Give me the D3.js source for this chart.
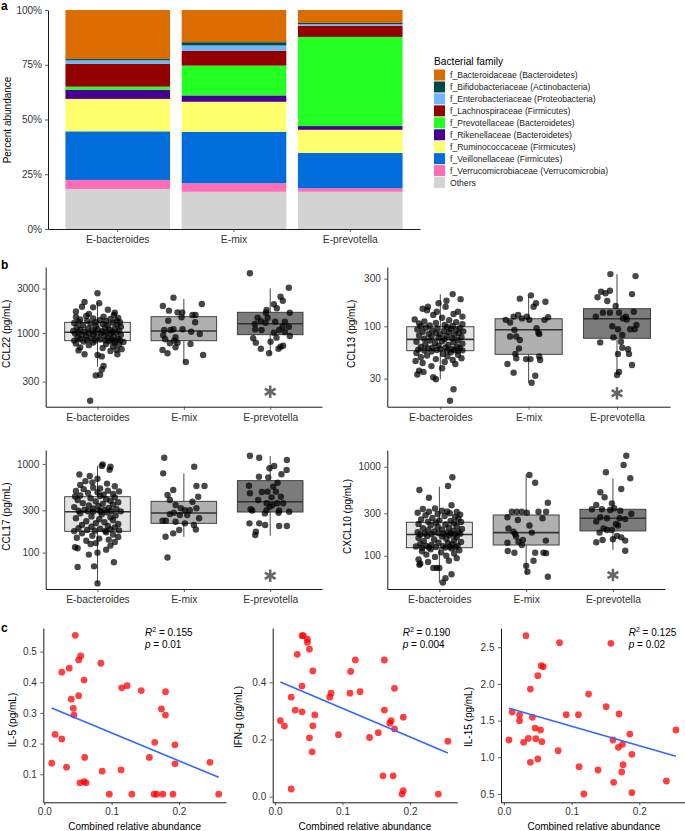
<!doctype html>
<html lang="en">
<head>
<meta charset="utf-8">
<title>Bacterial family abundance and cytokines</title>
<script src="https://cdn.jsdelivr.net/npm/d3@7"></script>
<style>
    body { margin: 0; background: #ffffff; }
    svg { display: block; font-family: "Liberation Sans", Arial, sans-serif; }
</style>
</head>
<body>
<svg></svg>
<script>
// ---------- panel a data ----------
var groups = ["E-bacteroides", "E-mix", "E-prevotella"];
var families = ["f_Bacteroidaceae (Bacteroidetes)", "f_Bifidobacteriaceae (Actinobacteria)",
    "f_Enterobacteriaceae (Proteobacteria)", "f_Lachnospiraceae (Firmicutes)",
    "f_Prevotellaceae (Bacteroidetes)", "f_Rikenellaceae (Bacteroidetes)",
    "f_Ruminococcaceae (Firmicutes)", "f_Veillonellaceae (Firmicutes)",
    "f_Verrucomicrobiaceae (Verrucomicrobia)", "Others"];
var familyColors = ["#db6d00", "#004949", "#6db6ff", "#920000", "#24ff24",
    "#490092", "#ffff6d", "#006ddb", "#ff6db6", "#d3d3d3"];
var abundBacteroides = [0.224, 0.006, 0.015, 0.105, 0.014, 0.042, 0.148, 0.222, 0.041, 0.183];
var abundMix = [0.147, 0.015, 0.024, 0.068, 0.136, 0.029, 0.137, 0.235, 0.039, 0.170];
var abundPrevotella = [0.059, 0.006, 0.007, 0.051, 0.407, 0.017, 0.106, 0.161, 0.016, 0.170];
var pctTicks = [0, 0.25, 0.5, 0.75, 1];

// ---------- panel b data: box stats [low whisker, q1, median, q3, high whisker] ----------
var ccl22Stats = [[434, 826, 1017, 1303, 2138], [484, 826, 1051, 1497, 2320], [590, 959, 1259, 1670, 3025]];
var ccl13Stats = [[29.5, 57, 74, 99, 209], [27.3, 52.5, 92.5, 119, 198], [32.6, 76, 119, 150, 333]];
var ccl17Stats = [[45, 174, 289, 427, 950], [151, 214, 280, 379, 783], [155, 287, 375, 648, 1228]];
var cxcl10Stats = [[50, 123, 173, 238, 597], [61, 132, 182, 287, 822], [116, 190, 264, 333, 742]];

// points: [jitter (fraction of category step), value]
var ccl22Bact = [[0,2673],[-0.15,2155],[0.02,2085],[-0.18,1918],[-0.05,1888],[0.12,1780],[-0.25,1700],[0.2,1650],[-0.1,1600],[0.19,1563],[-0.13,1523],[0.07,1497],[-0.25,1490],[0.24,1450],[-0.05,1430],[0.15,1420],[-0.2,1400],[0.03,1380],[0.22,1360],[-0.12,1350],[0.1,1340],[-0.22,1320],[0.26,1310],[-0.02,1308],
    [0.18,1290],[-0.27,1280],[-0.08,1260],[0.06,1250],[0.23,1230],[-0.17,1210],[0.12,1200],[-0.02,1180],[0.27,1170],[-0.24,1150],[0.09,1140],[-0.11,1120],[0.2,1110],[0,1100],[-0.2,1090],[0.14,1080],[-0.06,1070],[0.25,1060],[-0.28,1050],[0.05,1045],[-0.15,1035],[0.17,1030],[-0.03,1025],[0.1,1020],[-0.22,1018],
    [0.22,1010],[-0.1,1000],[0.04,995],[-0.26,985],[0.15,975],[-0.05,965],[0.27,955],[-0.18,945],[0.08,935],[-0.13,925],[0.19,915],[0,905],[-0.23,895],[0.12,885],[-0.07,875],[0.24,865],[-0.2,858],[0.03,850],[0.16,845],[-0.12,840],[0.26,835],[-0.03,832],[0.09,830],[-0.27,828],[0.2,827],
    [0.14,820],[-0.16,810],[0.3,800],[-0.05,790],[0.2,780],[-0.25,770],[0.1,760],[0.25,750],[-0.1,740],[0.18,720],[-0.2,700],[0.06,690],[0.28,670],[-0.22,650],[0.15,640],[0.22,660],[0.23,590],[-0.15,590],[0,580],[0.05,560],[0.07,442],[0.05,405],[-0.02,350],[0.03,355],[-0.085,187]];
var ccl22Mix = [[-0.12,2400],[-0.243,1950],[0.208,2050],[-0.173,1738],[-0.073,1668],[-0.019,1668],[0.1,1563],[0.135,1563],[-0.027,1475],[0.131,1303],[-0.181,1356],[-0.12,1096],[-0.227,1077],[-0.154,1077],[-0.015,1096],[0.085,1033],[0.185,975],[-0.239,944],[-0.096,899],[-0.216,856],[-0.112,827],[-0.162,775],[-0.073,787],[0.077,762],[-0.096,702],[-0.247,657],[-0.189,605],[0.223,580],[0.023,488]];
var ccl22Prev = [[-0.235,4385],[0.216,3070],[0.12,2455],[0.146,2225],[0.042,2035],[0.077,1843],[-0.042,1768],[-0.05,1653],[0.227,1653],[-0.146,1462],[-0.03,1462],[-0.108,1346],[0.058,1324],[-0.177,1250],[-0.054,1291],[0.17,1324],[0.143,1169],[0.216,1169],[-0.173,1095],[-0.1,1077],[0.104,1077],[0.042,1009],[0.17,1025],[0.227,929],[-0.197,877],[0.073,891],[-0.166,787],[0.004,806],[0.15,730],[0.12,712],[-0.108,678],[0.096,678],[-0.012,605]];

var ccl13Bact = [[0.14,210],[0.23,187],[0.07,180],[-0.02,170],[-0.14,157],[0.06,157],[-0.2,150],[-0.15,145],[-0.04,140],[0.2,140],[0.15,133],[-0.08,130],[0.25,125],[0.02,122],[-0.29,117],[0.1,115],[-0.18,112],[0.18,110],[-0.05,108],[-0.24,107],[0.25,105],[0.05,103],[-0.12,102],[0.14,101],[-0.22,100],
    [0.08,98],[-0.16,97],[0.22,96],[-0.03,95],[0.12,94],[-0.26,93],[0.18,92],[-0.09,91],[0.04,90],[0.26,89],[-0.2,88],[0.1,87],[-0.05,86],[0.21,85],[-0.13,84],[0,83],[0.16,82],[-0.24,81],[0.07,80],[-0.1,79],[0.24,78],[-0.02,77],[0.13,76],[-0.18,75],[0.05,74.5],
    [0.2,73],[-0.12,72],[0.02,71],[-0.27,70],[0.15,69],[-0.06,68],[0.25,67],[-0.17,66],[0.09,65],[-0.02,64],[0.19,63],[-0.22,62],[0.06,61.5],[-0.09,61],[0.22,60.5],[-0.14,60],[0,59.5],[0.13,59],[-0.25,58.5],[0.16,58],[-0.04,57.8],[0.25,57.5],[-0.18,57.3],[0.08,57.1],[0.2,57],
    [-0.1,56],[0.12,55],[-0.27,54],[0.03,53],[0.2,52],[-0.15,51],[0.08,50],[-0.22,49],[0.24,48],[-0.05,47],[0.14,46],[-0.28,45],[0.05,44],[-0.2,43],[0.17,42],[-0.1,40],[0.02,38],[-0.24,36],[-0.19,35],[-0.26,33],[-0.08,31],[-0.05,29.5],[0.15,23.5],[0.11,18]];
var ccl13Mix = [[0.026,204],[-0.1,189],[0.083,170],[0.19,176],[0.056,157],[-0.17,125],[-0.12,130],[-0.075,120],[-0.02,125],[0.008,116],[0.22,123],[0.18,116],[-0.26,116],[-0.21,109],[0.09,95.5],[0.11,86],[-0.16,92],[-0.21,79],[-0.14,79],[-0.1,73],[0.12,84],[-0.11,60],[-0.15,53],[-0.24,42],[-0.14,48],[-0.03,47],[0.02,47],[0.12,50],[0.13,46],[-0.17,34.4],[0.075,32],[0.034,27.3]];
var ccl13Prev = [[-0.075,333],[0.21,318],[-0.22,195],[-0.18,222],[-0.13,214],[-0.08,227],[-0.11,179],[-0.015,160],[0.17,210],[-0.24,125],[-0.16,137],[-0.08,137],[0.023,137],[0.1,125],[0.19,140],[0.11,117],[0.068,120],[0.2,93.3],[0.15,93.3],[0.011,93.3],[0.22,103],[-0.053,100],[0.06,82],[-0.04,77.5],[-0.19,69],[0.045,70],[0.06,61],[0.125,59],[0.136,53],[0.011,53],[0.17,41],[0.023,35],[0,32.6]];

var ccl17Bact = [[0.06,990],[0.05,950],[0.15,930],[0.14,860],[-0.21,760],[-0.09,730],[0,680],[-0.14,640],[-0.06,620],[0.11,600],[-0.2,580],[0.2,560],[-0.05,540],[0.03,530],[-0.16,520],[0.12,500],[-0.25,495],[0.25,490],[0,480],[-0.11,470],[0.18,460],[0.07,450],[-0.2,440],[0.03,435],[-0.26,430],
    [0.2,420],[-0.08,410],[0.1,400],[-0.23,392],[0.15,385],[-0.02,378],[0.24,370],[-0.17,362],[0.06,355],[0.18,348],[-0.1,340],[0.01,333],[-0.27,326],[0.13,320],[-0.05,315],[0.22,310],[-0.15,305],[0.08,302],[0.02,299],[-0.22,297],[0.16,295],[-0.11,293],[0.27,292],[0.04,291],[-0.05,290],
    [0.11,285],[-0.2,278],[0.05,270],[0.21,263],[-0.07,256],[0.15,250],[-0.25,244],[0.02,238],[0.18,232],[-0.13,226],[0.08,220],[-0.02,215],[0.24,210],[-0.18,205],[0.12,200],[-0.07,196],[0.2,192],[-0.22,189],[0.03,186],[0.15,183],[-0.12,180],[0.25,178],[-0.03,177],[0.09,176],[-0.27,175],
    [0.1,170],[-0.18,165],[0.18,160],[-0.06,155],[0.24,150],[-0.24,147],[0.02,144],[0.13,140],[-0.13,136],[0.2,132],[-0.02,128],[-0.08,125],[0.15,120],[-0.26,115],[-0.23,112],[0.1,108],[0,100],[-0.1,95],[0.19,78],[-0.04,70],[-0.23,69],[0,45]];
var ccl17Mix = [[-0.227,1175],[0.12,930],[-0.239,783],[0.146,564],[0.239,564],[-0.123,508],[-0.189,446],[-0.162,392],[0.166,427],[0.1,375],[-0.096,344],[-0.035,316],[0.012,301],[0.069,301],[0.146,316],[-0.162,272],[-0.116,282],[-0.046,265],[0.039,265],[0.177,244],[-0.247,229],[-0.208,229],[-0.096,223],[0.012,214],[0.116,205],[-0.054,180],[0.139,182],[-0.123,165],[-0.212,151],[-0.189,88]];
var ccl17Prev = [[-0.235,1238],[-0.127,1175],[0.193,1107],[0.046,949],[-0.008,893],[0.19,853],[-0.13,718],[0.13,764],[-0.023,706],[0.085,614],[-0.246,568],[0.035,554],[-0.097,482],[-0.031,487],[-0.235,467],[0.066,487],[0.016,420],[0.124,427],[-0.139,392],[-0.04,360],[0.081,360],[0.15,360],[0.027,344],[-0.004,330],[-0.227,308],[-0.208,298],[-0.042,301],[0.104,298],[-0.062,277],[0.22,289],[0.097,282],[-0.24,214],[-0.127,214],[-0.058,205],[0.104,200],[0.193,200],[-0.166,172],[-0.173,158]];

var cxcl10Bact = [[0.15,761],[0.1,608],[-0.23,548],[-0.12,449],[0.14,369],[-0.05,340],[-0.19,335],[0.03,320],[0.09,315],[-0.12,312],[0.2,310],[-0.25,305],[0.12,300],[-0.02,295],[0.24,290],[-0.16,285],[0.06,280],[0.18,272],[-0.08,266],[0.22,260],[-0.21,255],[0,250],[0.13,246],[-0.13,242],[0.25,240],
    [-0.04,236],[0.17,232],[-0.24,228],[0.07,224],[-0.1,220],[0.2,216],[-0.02,212],[0.11,208],[-0.19,204],[0.26,200],[0.03,197],[-0.13,194],[0.16,191],[-0.06,188],[0.22,186],[-0.25,184],[0.09,182],[-0.01,180],[0.13,179],[-0.17,178],[0.24,177],[0.05,176],[-0.09,175],[0.18,174],[-0.22,173.5],
    [0.12,170],[-0.14,167],[0.03,164],[0.2,161],[-0.24,158],[0.08,155],[-0.06,152],[0.17,149],[-0.18,146],[0.25,143],[-0.01,140],[0.1,138],[-0.22,136],[0.15,134],[-0.09,132],[0.21,130],[-0.15,129],[0.04,128],[-0.27,127],[0.12,126],[-0.04,125],[0.19,124.5],[-0.12,124],[0.07,123.5],[-0.2,123],
    [0.14,121],[-0.1,118],[0.23,115],[-0.2,112],[0.02,109],[0.17,106],[-0.15,103],[0.08,100],[-0.05,97],[0.2,94],[-0.24,91],[0.11,88],[-0.13,85],[-0.22,82],[-0.23,79],[-0.07,73],[-0.03,73],[0,73],[0.14,62],[0.07,56],[0.04,50]];
var cxcl10Mix = [[0.038,808],[0.104,662],[0.25,394],[-0.215,271],[-0.165,312],[-0.108,312],[-0.05,312],[0.008,305],[0.142,312],[0.23,313],[0.188,264],[-0.096,252],[0.038,219],[-0.204,203],[-0.146,186],[-0.127,175],[-0.115,164],[0.065,182],[-0.038,150],[0.227,148],[-0.215,140],[-0.088,144],[-0.05,132],[-0.212,113],[-0.135,108],[0.104,108],[0.2,108],[0.23,107],[0.085,88],[0,77],[0.015,66],[0.25,58]];
var cxcl10Prev = [[0.154,1331],[0.123,1047],[-0.081,867],[0.2,742],[0.096,562],[-0.146,516],[-0.096,454],[-0.012,388],[-0.192,372],[0.015,342],[-0.242,333],[-0.127,333],[-0.031,326],[0.085,321],[0.212,296],[-0.146,271],[-0.069,264],[0.077,264],[0.142,258],[-0.192,242],[0.035,227],[-0.108,203],[-0.069,195],[-0.012,195],[0.058,219],[-0.154,182],[0.046,167],[0.096,161],[0,153],[-0.119,150],[-0.192,142],[0.142,148],[0.142,114]];

// ---------- panel c data: [combined relative abundance, pg/mL] ----------
var il5Points = [[0.011,0.136],[0.016,0.230],[0.026,0.433],[0.026,0.215],[0.033,0.123],[0.037,0.446],[0.040,0.345],[0.043,0.315],[0.044,0.293],[0.051,0.473],[0.051,0.356],[0.054,0.486],[0.053,0.072],[0.059,0.407],[0.060,0.155],[0.059,0.076],[0.062,0.072],[0.084,0.462],[0.086,0.110],[0.0965,0.035],[0.114,0.114],[0.115,0.382],[0.123,0.389],[0.130,0.035],[0.144,0.373],[0.156,0.155],[0.164,0.204],[0.163,0.035],[0.167,0.035],[0.174,0.313],[0.176,0.035],[0.180,0.369],[0.180,0.293],[0.191,0.035],[0.194,0.196],[0.194,0.134],[0.246,0.139],[0.259,0.035],[0.046,0.553]];
var ifngPoints = [[0.008,0.266],[0.014,0.247],[0.024,0.027],[0.024,0.348],[0.030,0.303],[0.033,0.498],[0.040,0.297],[0.040,0.387],[0.048,0.540],[0.051,0.516],[0.051,0.206],[0.055,0.157],[0.056,0.248],[0.056,0.440],[0.059,0.286],[0.081,0.348],[0.083,0.362],[0.094,0.217],[0.111,0.362],[0.112,0.438],[0.119,0.478],[0.126,0.367],[0.140,0.207],[0.153,0.224],[0.160,0.073],[0.162,0.478],[0.162,0.303],[0.170,0.257],[0.172,0.266],[0.175,0.073],[0.177,0.237],[0.177,0.379],[0.188,0.009],[0.190,0.021],[0.190,0.278],[0.242,0.009],[0.256,0.194],[0.040,0.563],[0.042,0.563],[0.048,0.551]];
var il15Points = [[0.0074,1.236],[0.012,1.617],[0.023,1.499],[0.023,1.576],[0.029,1.204],[0.036,1.259],[0.039,1.930],[0.039,0.932],[0.042,1.545],[0.046,1.399],[0.047,1.253],[0.050,2.112],[0.050,0.977],[0.054,1.372],[0.055,2.248],[0.058,2.234],[0.056,1.213],[0.080,1.090],[0.082,2.561],[0.092,1.580],[0.110,1.580],[0.111,0.872],[0.118,0.5],[0.125,1.862],[0.139,0.827],[0.151,1.689],[0.158,2.553],[0.161,1.236],[0.162,0.659],[0.169,1.136],[0.170,1.590],[0.174,0.800],[0.175,1.177],[0.176,0.899],[0.186,1.317],[0.189,1.041],[0.189,0.518],[0.240,0.677],[0.254,1.372],[0.0325,2.657]];
// linear fits [intercept, slope] and stats text
var il5Fit = [0.3258, -0.911];
var ifngFit = [0.409, -1.0];
var il15Fit = [1.689, -2.66];
var r2Values = ["0.155", "0.190", "0.125"];
var pValues = ["0.01", "0.004", "0.02"];

// ---------- drawing ----------
var FONT = '"Liberation Sans", Arial, sans-serif';
var svg = d3.select("svg").attr("width", 685).attr("height", 831);
svg.append("rect").attr("width", 685).attr("height", 831).attr("fill", "#fff");

function styleAxis(g, size) {
    g.attr("font-family", FONT).attr("font-size", size || 10);
    g.select(".domain").attr("stroke", "#000").attr("stroke-width", 0.9);
    g.selectAll(".tick line").attr("stroke", "#333").attr("stroke-width", 0.8);
    g.selectAll(".tick text").attr("fill", "#333");
}
function yTitle(text, x, y) {
    svg.append("text").attr("transform", "translate(" + x + "," + y + ") rotate(-90)")
        .attr("text-anchor", "middle").attr("font-size", 10).attr("fill", "#000").text(text);
}
function panelLetter(t, x, y) {
    svg.append("text").attr("x", x).attr("y", y).attr("font-weight", "bold")
        .attr("font-size", 12).text(t);
}
// significance star drawn as three crossing strokes
function star(cx, cy) {
    var r = 6.2;
    [90, 30, 150].forEach(function (a) {
        var t = a * Math.PI / 180;
        svg.append("line")
            .attr("x1", cx - r * Math.cos(t)).attr("y1", cy - r * Math.sin(t))
            .attr("x2", cx + r * Math.cos(t)).attr("y2", cy + r * Math.sin(t))
            .attr("stroke", "#666").attr("stroke-width", 2.6);
    });
}

// ----- panel a -----
panelLetter("a", 1, 10);
var ax = d3.scaleBand().domain(groups).range([48, 420]).paddingInner(0.1).paddingOuter(0.15);
var ay = d3.scaleLinear().domain([0, 1]).range([229, 10]);
var abund = [abundBacteroides, abundMix, abundPrevotella];
var rows = groups.map(function (g, i) {
    var r = { group: g };
    families.forEach(function (f, j) { r[f] = abund[i][j]; });
    return r;
});
var stacked = d3.stack().keys(families.slice().reverse())(rows);
svg.append("g").selectAll("g").data(stacked).enter().append("g")
    .attr("fill", function (s) { return familyColors[families.indexOf(s.key)]; })
    .selectAll("rect").data(function (s) { return s; }).enter().append("rect")
    .attr("x", function (d) { return ax(d.data.group); })
    .attr("width", ax.bandwidth())
    .attr("y", function (d) { return ay(d[1]); })
    .attr("height", function (d) { return ay(d[0]) - ay(d[1]); });

var ga = svg.append("g").attr("transform", "translate(48,0)")
    .call(d3.axisLeft(ay).tickValues(pctTicks).tickFormat(d3.format(".0%")).tickSize(3).tickPadding(3).tickSizeOuter(0));
styleAxis(ga);
var gb = svg.append("g").attr("transform", "translate(0,229)")
    .call(d3.axisBottom(ax).tickSize(3).tickPadding(4).tickSizeOuter(0));
styleAxis(gb, 10.3);
yTitle("Percent abundance", 11, 120);

// legend
var lg = svg.append("g").attr("transform", "translate(434,0)");
lg.append("text").attr("x", 0).attr("y", 65).attr("font-size", 10.2).text("Bacterial family");
families.forEach(function (f, i) {
    var cy = 75 + i * 11.95;
    lg.append("rect").attr("x", 0).attr("y", cy - 5.5).attr("width", 11).attr("height", 11)
        .attr("fill", familyColors[i]);
    lg.append("text").attr("x", 16).attr("y", cy + 3).attr("font-size", 8.6).attr("fill", "#1a1a1a").text(f);
});

// ----- panel b -----
panelLetter("b", 1, 269);
var boxFills = ["#e3e3e3", "#b0b0b0", "#7b7b7b"];
function boxPanel(o) {
    var x = d3.scalePoint().domain(groups).range([o.left, o.right]).padding(0.6);
    var y = d3.scaleLog().domain(o.domain).range([o.bottom, o.top]);
    var step = x.step();
    var bw = step * 0.76;
    var g = svg.append("g");
    o.stats.forEach(function (s, i) {
        var cx = x(groups[i]);
        g.append("line").attr("x1", cx).attr("x2", cx).attr("y1", y(s[0])).attr("y2", y(s[1]))
            .attr("stroke", "#333").attr("stroke-width", 0.9);
        g.append("line").attr("x1", cx).attr("x2", cx).attr("y1", y(s[3])).attr("y2", y(s[4]))
            .attr("stroke", "#333").attr("stroke-width", 0.9);
        g.append("rect").attr("x", cx - bw / 2).attr("width", bw)
            .attr("y", y(s[3])).attr("height", y(s[1]) - y(s[3]))
            .attr("fill", boxFills[i]).attr("stroke", "#333").attr("stroke-width", 0.9);
        g.append("line").attr("x1", cx - bw / 2).attr("x2", cx + bw / 2).attr("y1", y(s[2])).attr("y2", y(s[2]))
            .attr("stroke", "#333").attr("stroke-width", 1.6);
    });
    o.points.forEach(function (pts, i) {
        g.selectAll(null).data(pts).enter().append("circle")
            .attr("cx", function (d) { return x(groups[i]) + d[0] * step; })
            .attr("cy", function (d) { return y(d[1]); })
            .attr("r", 3.2).attr("fill", "#000").attr("fill-opacity", 0.72);
    });
    var gy = svg.append("g").attr("transform", "translate(" + o.left + ",0)")
        .call(d3.axisLeft(y).tickValues(o.ticks).tickFormat(d3.format("d")).tickSize(3).tickPadding(3.5).tickSizeOuter(0));
    styleAxis(gy);
    var gx = svg.append("g").attr("transform", "translate(0," + o.bottom + ")")
        .call(d3.axisBottom(x).tickSize(3).tickPadding(3.5).tickSizeOuter(0));
    styleAxis(gx, 10.3);
    yTitle(o.title, o.titleX, (o.top + o.bottom) / 2 - 3);
    star(x(groups[2]), o.starY);
}
boxPanel({ left: 45.7, right: 322, top: 267, bottom: 406.7, domain: [161.2, 5125], ticks: [300, 1000, 3000],
    stats: ccl22Stats, points: [ccl22Bact, ccl22Mix, ccl22Prev], title: "CCL22 (pg/mL)", titleX: 10, starY: 391.7 });
boxPanel({ left: 387.3, right: 670, top: 267, bottom: 406.7, domain: [15.7, 392], ticks: [30, 100, 300],
    stats: ccl13Stats, points: [ccl13Bact, ccl13Mix, ccl13Prev], title: "CCL13 (pg/mL)", titleX: 355, starY: 393.3 });
boxPanel({ left: 45.7, right: 322, top: 450, bottom: 589, domain: [38.9, 1436], ticks: [100, 300, 1000],
    stats: ccl17Stats, points: [ccl17Bact, ccl17Mix, ccl17Prev], title: "CCL17 (pg/mL)", titleX: 10, starY: 575.7 });
boxPanel({ left: 387.3, right: 665, top: 450, bottom: 589, domain: [42.3, 1542], ticks: [100, 300, 1000],
    stats: cxcl10Stats, points: [cxcl10Bact, cxcl10Mix, cxcl10Prev], title: "CXCL10 (pg/mL)", titleX: 351, starY: 575 });

// ----- panel c -----
panelLetter("c", 1, 632);
function scatterPanel(o) {
    var x = d3.scaleLinear().domain(o.xd).range(o.xr);
    var y = d3.scaleLinear().domain(o.yd).range([802.3, 628]);
    var g = svg.append("g");
    g.selectAll("circle").data(o.points).enter().append("circle")
        .attr("cx", function (d) { return x(d[0]); })
        .attr("cy", function (d) { return y(d[1]); })
        .attr("r", 3.4).attr("fill", "#ff0000").attr("fill-opacity", 0.75);
    var ext = d3.extent(o.points, function (d) { return d[0]; });
    g.append("line")
        .attr("x1", x(ext[0])).attr("y1", y(o.fit[0] + o.fit[1] * ext[0]))
        .attr("x2", x(ext[1])).attr("y2", y(o.fit[0] + o.fit[1] * ext[1]))
        .attr("stroke", "#3366ff").attr("stroke-width", 1.6);
    var gy = svg.append("g").attr("transform", "translate(" + o.xr[0] + ",0)")
        .call(d3.axisLeft(y).tickValues(o.yticks).tickFormat(d3.format(".1f")).tickSize(3).tickPadding(3.5).tickSizeOuter(0));
    styleAxis(gy);
    var gx = svg.append("g").attr("transform", "translate(0,802.3)")
        .call(d3.axisBottom(x).tickValues([0, 0.1, 0.2]).tickFormat(d3.format(".1f")).tickSize(3).tickPadding(3).tickSizeOuter(0));
    styleAxis(gx);
    svg.append("text").attr("x", (o.xr[0] + o.xr[1]) / 2).attr("y", 829.5).attr("text-anchor", "middle")
        .attr("font-size", 10).text("Combined relative abundance");
    yTitle(o.title, o.titleX, o.titleY);
    var t1 = svg.append("text").attr("x", o.annX).attr("y", 636).attr("font-size", 10);
    t1.append("tspan").attr("font-style", "italic").text("R");
    t1.append("tspan").attr("font-size", 7).attr("dy", -4).text("2");
    t1.append("tspan").attr("dy", 4).text(" = " + o.r2);
    var t2 = svg.append("text").attr("x", o.annX).attr("y", 647.5).attr("font-size", 10);
    t2.append("tspan").attr("font-style", "italic").text("p");
    t2.append("tspan").text(" = " + o.p);
}
scatterPanel({ xd: [-0.0015, 0.27], xr: [43.3, 226.1], yd: [0.0085, 0.577], yticks: [0.1, 0.2, 0.3, 0.4, 0.5],
    points: il5Points, fit: il5Fit, title: "IL-5 (pg/mL)", titleX: 16, titleY: 720, annX: 145, r2: r2Values[0], p: pValues[0] });
scatterPanel({ xd: [-0.0034, 0.27], xr: [272.7, 457.3], yd: [-0.0196, 0.59], yticks: [0, 0.2, 0.4],
    points: ifngPoints, fit: ifngFit, title: "IFN-g (pg/mL)", titleX: 242, titleY: 717, annX: 402.7, r2: r2Values[1], p: pValues[1] });
scatterPanel({ xd: [-0.0044, 0.27], xr: [501, 686.7], yd: [0.387, 2.762], yticks: [0.5, 1.0, 1.5, 2.0, 2.5],
    points: il15Points, fit: il15Fit, title: "IL-15 (pg/mL)", titleX: 472, titleY: 717, annX: 628.7, r2: r2Values[2], p: pValues[2] });
</script>
</body>
</html>
